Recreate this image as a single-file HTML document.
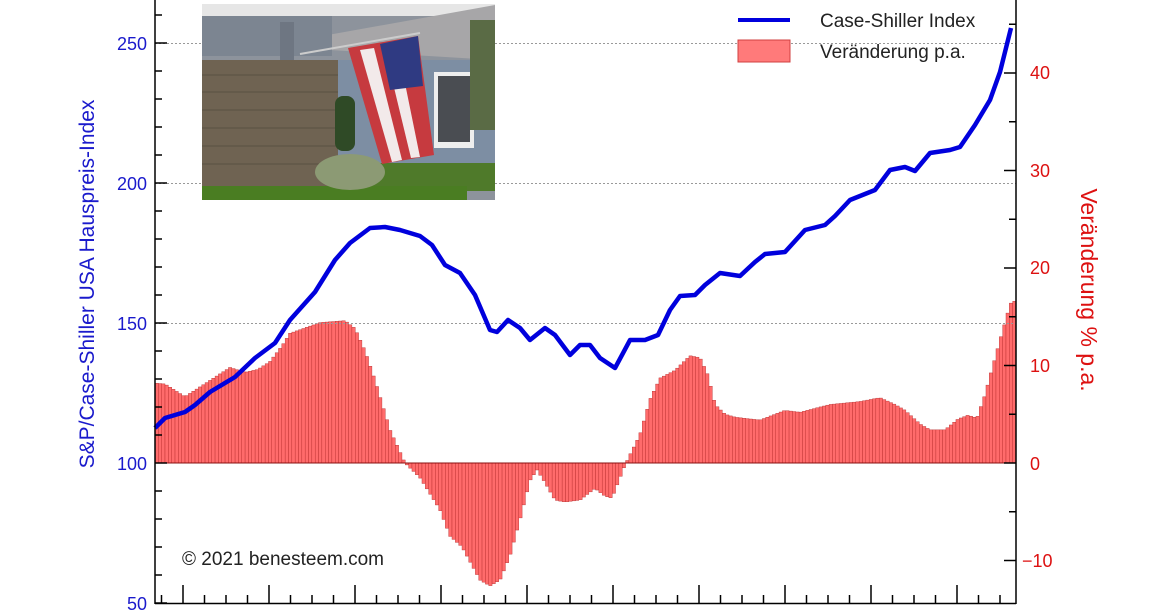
<!DOCTYPE html>
<html><head><meta charset="utf-8"><style>
html,body{margin:0;padding:0;background:#fff;width:1170px;height:610px;overflow:hidden}
svg text{font-family:"Liberation Sans",sans-serif}
</style></head><body>
<svg id="s" width="1170" height="610" xmlns="http://www.w3.org/2000/svg">
<g id="bars"></g>
<g stroke="#999" stroke-dasharray="2,2" stroke-width="1">
<line x1="155" x2="1016" y1="43.5" y2="43.5"/><line x1="155" x2="1016" y1="183.5" y2="183.5"/><line x1="155" x2="1016" y1="323.5" y2="323.5"/>
</g>
<line x1="155" x2="1016" y1="463" y2="463" stroke="#8a1010" stroke-width="1"/>
<!-- photo -->
<g>
<rect x="202" y="4" width="293" height="196" fill="#8d939c"/>
<rect x="202" y="4" width="293" height="12" fill="#e6e6e6"/>
<polygon points="300,40 495,5 495,60 330,50" fill="#a7a6a8"/>
<rect x="202" y="16" width="130" height="40" fill="#7c8591"/>
<rect x="280" y="22" width="14" height="40" fill="#6e7682"/>
<rect x="330" y="60" width="165" height="105" fill="#7d8ea3"/>
<rect x="434" y="72" width="40" height="76" fill="#eee"/>
<rect x="438" y="76" width="32" height="66" fill="#4a4d52"/>
<rect x="202" y="60" width="136" height="126" fill="#6f6352"/>
<g stroke="#4d4538" stroke-width="1" opacity=".6">
<line x1="202" y1="75" x2="338" y2="75"/><line x1="202" y1="92" x2="338" y2="92"/><line x1="202" y1="110" x2="338" y2="110"/><line x1="202" y1="128" x2="338" y2="128"/><line x1="202" y1="146" x2="338" y2="146"/><line x1="202" y1="164" x2="338" y2="164"/></g>
<rect x="335" y="96" width="20" height="55" rx="8" fill="#2f4a26"/>
<rect x="470" y="20" width="25" height="110" fill="#5a6b45"/>
<rect x="330" y="163" width="165" height="28" fill="#4f7a2a"/>
<rect x="202" y="186" width="265" height="14" fill="#4a7d22"/>
<ellipse cx="350" cy="172" rx="35" ry="18" fill="#8c9a74"/>
<polygon points="348,48 418,36 434,155 382,164" fill="#c63a3f"/>
<polygon points="360,50 374,48 402,160 392,162" fill="#f2eaea"/>
<polygon points="384,46 397,44 420,157 411,158" fill="#f2eaea"/>
<polygon points="380,44 418,36 423,86 390,90" fill="#2f3a82"/>
<line x1="300" y1="54" x2="420" y2="33" stroke="#ccc" stroke-width="2"/>
</g>
<path id="line" fill="none" stroke="#0000dd" stroke-width="4.5" stroke-linejoin="round"/>
<!-- axes -->
<g stroke="#000" stroke-width="1.5" fill="none">
<line x1="155" y1="0" x2="155" y2="604"/>
<line x1="1016" y1="0" x2="1016" y2="604"/>
<line x1="155" y1="603.5" x2="1016" y2="603.5"/>
</g>
<g id="ticks" stroke="#000" stroke-width="1.5"></g>
<g fill="#1a1acc" font-size="18" text-anchor="end">
<text x="147" y="50">250</text><text x="147" y="190">200</text><text x="147" y="330">150</text><text x="147" y="470">100</text><text x="147" y="610">50</text>
</g>
<g fill="#dd1111" font-size="18" text-anchor="start">
<text x="1030" y="79">40</text><text x="1030" y="177">30</text><text x="1030" y="274">20</text><text x="1030" y="372">10</text><text x="1030" y="470">0</text><text x="1022" y="567">−10</text>
</g>
<text transform="translate(94,284) rotate(-90)" text-anchor="middle" fill="#1a1acc" font-size="21">S&amp;P/Case-Shiller USA Hauspreis-Index</text>
<text transform="translate(1081,290) rotate(90)" text-anchor="middle" fill="#dd1111" font-size="23">Veränderung % p.a.</text>
<line x1="738" y1="20" x2="790" y2="20" stroke="#0000dd" stroke-width="4"/>
<text x="820" y="27" font-size="19" fill="#222">Case-Shiller Index</text>
<rect x="738" y="40" width="52" height="22" fill="#ff7a7a" stroke="#d04040" stroke-width="1"/>
<text x="820" y="58" font-size="19" fill="#222">Veränderung p.a.</text>
<text x="182" y="565" font-size="19" fill="#222">© 2021 benesteem.com</text>
</svg>
<script>
const ns="http://www.w3.org/2000/svg";
const bp=[[155,8.2],[165,8.1],[185,6.8],[200,7.8],[230,9.8],[245,9.3],[258,9.6],[270,10.4],[282,12],[290,13.3],[320,14.4],[345,14.6],[355,13.8],[365,11.5],[375,8.5],[390,3.4],[405,0],[420,-1.5],[440,-4.8],[450,-7.5],[462,-8.6],[480,-12],[490,-12.6],[500,-12],[510,-9.5],[520,-5.8],[530,-1.8],[537,-0.7],[545,-2],[555,-3.8],[565,-4],[580,-3.8],[595,-2.6],[605,-3.4],[612,-3.6],[625,-0.2],[640,2.9],[650,6.5],[660,8.7],[675,9.5],[690,11],[700,10.8],[708,9],[715,6],[725,5],[735,4.7],[760,4.4],[785,5.4],[800,5.2],[830,6],[860,6.3],[880,6.7],[895,6],[905,5.4],[920,4],[930,3.4],[945,3.4],[958,4.5],[968,4.9],[977,4.6],[985,7],[993,10],[1000,12.6],[1008,15.5],[1012,16.7],[1016,16.5]];
function interp(a,x){for(let i=0;i<a.length-1;i++){if(x>=a[i][0]&&x<=a[i+1][0]){const t=(x-a[i][0])/(a[i+1][0]-a[i][0]);return a[i][1]+t*(a[i+1][1]-a[i][1]);}}return a[a.length-1][1];}
const g=document.getElementById("bars");
const n=258,w=861/n;
for(let i=0;i<n;i++){const x=155+i*w;const v=interp(bp,x+w/2);const y=463-v*9.75;const r=document.createElementNS(ns,"rect");
r.setAttribute("x",x.toFixed(2));r.setAttribute("width",w.toFixed(2));r.setAttribute("y",Math.min(y,463).toFixed(2));r.setAttribute("height",Math.abs(463-y).toFixed(2));
r.setAttribute("fill","#ff6b6b");r.setAttribute("stroke","#b52a2a");r.setAttribute("stroke-width","0.4");g.appendChild(r);}
const lp=[[155,428],[165,418],[185,412],[195,405],[210,392],[235,377],[255,358],[275,343],[290,320],[315,292],[335,260],[350,243],[370,228],[385,227],[400,230],[420,236],[432,245],[445,265],[460,273],[475,295],[490,330],[497,332],[508,320],[520,328],[530,340],[545,328],[555,335],[570,355],[580,345],[590,345],[600,358],[615,368],[630,340],[645,340],[658,335],[670,310],[680,296],[695,295],[705,285],[720,273],[740,276],[755,262],[765,254],[785,252],[805,230],[825,225],[835,216],[850,200],[875,190],[890,170],[905,167],[915,171],[930,153],[950,150],[960,147],[975,125],[990,100],[1000,72],[1011,28]];
document.getElementById("line").setAttribute("d","M"+lp.map(p=>p.join(",")).join(" L"));
const tk=document.getElementById("ticks");
function L(x1,y1,x2,y2){const l=document.createElementNS(ns,"line");l.setAttribute("x1",x1);l.setAttribute("y1",y1);l.setAttribute("x2",x2);l.setAttribute("y2",y2);tk.appendChild(l);}
for(let k=0;k<40;k++){const x=161.5+21.5*k;if(x>1012)break;const maj=(k%4===1);L(x,603,x,maj?585:595);}
for(let v=50;v<=260;v+=10){const y=603-(v-50)*2.8;if(y<0)break;L(155,y,v%50===0?167:162,y);}
for(let v=-15;v<=45;v+=5){const y=463-v*9.75;if(y<0||y>603)continue;L(1016,y,v%10===0?1004:1009,y);}
</script>
</body></html>
